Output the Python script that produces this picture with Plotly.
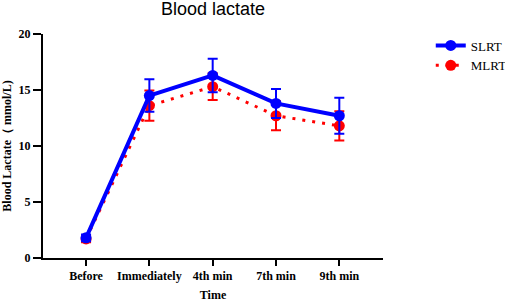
import plotly.graph_objects as go

categories = ["Before", "Immediately", "4th min", "7th min", "9th min"]
slrt_mean = [1.8, 14.5, 16.3, 13.8, 12.7]
slrt_sd = [0.3, 1.45, 1.5, 1.3, 1.6]
mlrt_mean = [1.7, 13.6, 15.3, 12.7, 11.8]
mlrt_sd = [0.3, 1.35, 1.2, 1.3, 1.3]
y_ticks = [0, 5, 10, 15, 20]

serif = "Liberation Serif"

fig = go.Figure()
fig.add_trace(go.Scatter(
    x=categories, y=mlrt_mean, name="MLRT", mode="lines+markers",
    line=dict(color="#ff0000", width=3, dash="3px,7px"),
    marker=dict(color="#ff0000", size=11, symbol="circle"),
    error_y=dict(type="data", array=mlrt_sd, color="#ff0000", thickness=2, width=5),
    legendrank=2, cliponaxis=False,
))
fig.add_trace(go.Scatter(
    x=categories, y=slrt_mean, name="SLRT", mode="lines+markers",
    line=dict(color="#0000ff", width=4),
    marker=dict(color="#0000ff", size=11, symbol="circle"),
    error_y=dict(type="data", array=slrt_sd, color="#0000ff", thickness=2, width=5),
    legendrank=1, cliponaxis=False,
))

fig.update_layout(
    width=505, height=305,
    margin=dict(l=43, r=122, t=34, b=47),
    paper_bgcolor="white", plot_bgcolor="white",
    title=dict(text="Blood lactate", x=0.5, xref="paper", xanchor="center",
               y=0.97, yref="container", yanchor="middle",
               font=dict(family="Liberation Sans", size=18, color="black")),
    showlegend=True,
    legend=dict(x=0.853, y=0.9, xref="container", yref="container",
                xanchor="left", yanchor="top",
                font=dict(family=serif, size=13, color="black"),
                bgcolor="rgba(0,0,0,0)", tracegroupgap=6),
    xaxis=dict(
        type="category", categoryorder="array", categoryarray=categories,
        range=[-0.68, 4.69], showgrid=False, zeroline=False, automargin=False,
        showline=True, linecolor="black", linewidth=2,
        ticks="outside", ticklen=6, tickwidth=2, tickcolor="black",
        tickfont=dict(family=serif, size=12, color="black", weight="bold"),
        title=dict(text="<b>Time</b>", font=dict(family=serif, size=12, color="black"), standoff=8),
    ),
    yaxis=dict(
        range=[0, 20], tickvals=y_ticks, showgrid=False, zeroline=False, automargin=False,
        showline=True, linecolor="black", linewidth=2,
        ticks="outside", ticklen=8, tickwidth=2, tickcolor="black",
        tickfont=dict(family=serif, size=12, color="black", weight="bold"),
        title=dict(text="<b>Blood Lactate（ mmol/L)</b>", font=dict(family=serif, size=12, color="black"), standoff=6),
    ),
)

fig.write_html("out.html", config={"displayModeBar": False},
               post_script="document.body.style.margin='0';")
